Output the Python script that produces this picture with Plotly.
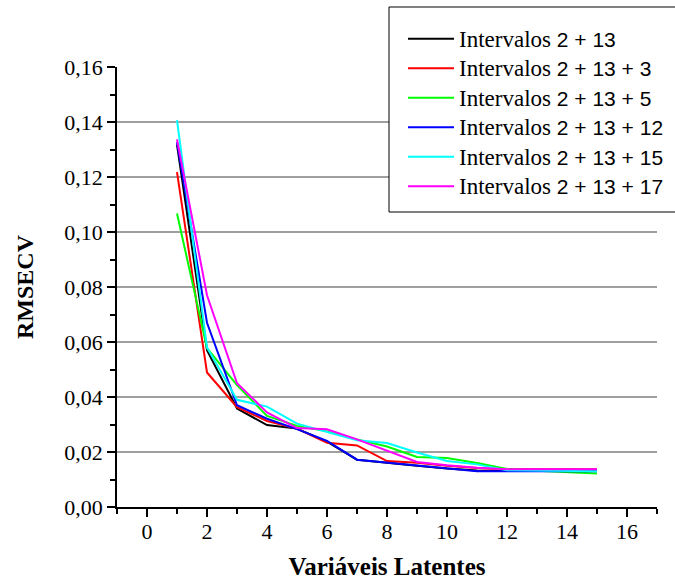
import plotly.graph_objects as go

# Number of latent variables
latent_vars = list(range(1, 16))

# RMSECV for each combination of intervals
rmsecv_2_13 = [0.1318, 0.0570, 0.0358, 0.0298, 0.0285, 0.0238, 0.0172, 0.0160, 0.0150,
               0.0140, 0.0133, 0.0132, 0.0132, 0.0131, 0.0131]
rmsecv_2_13_3 = [0.1218, 0.0489, 0.0363, 0.0313, 0.0285, 0.0234, 0.0224, 0.0167, 0.0161,
                 0.0150, 0.0142, 0.0137, 0.0137, 0.0137, 0.0137]
rmsecv_2_13_5 = [0.1067, 0.0578, 0.0443, 0.0331, 0.0295, 0.0275, 0.0246, 0.0220, 0.0182,
                 0.0178, 0.0160, 0.0138, 0.0132, 0.0127, 0.0122]
rmsecv_2_13_12 = [0.1327, 0.0670, 0.0370, 0.0321, 0.0283, 0.0240, 0.0172, 0.0162, 0.0152,
                  0.0140, 0.0130, 0.0130, 0.0130, 0.0130, 0.0130]
rmsecv_2_13_15 = [0.1407, 0.0580, 0.0390, 0.0365, 0.0303, 0.0272, 0.0243, 0.0233, 0.0198,
                  0.0167, 0.0155, 0.0134, 0.0132, 0.0131, 0.0130]
rmsecv_2_13_17 = [0.1337, 0.0770, 0.0450, 0.0344, 0.0287, 0.0283, 0.0246, 0.0204, 0.0164,
                  0.0152, 0.0143, 0.0137, 0.0137, 0.0137, 0.0137]

interval_sets = ["2 + 13", "2 + 13 + 3", "2 + 13 + 5", "2 + 13 + 12", "2 + 13 + 15", "2 + 13 + 17"]
series_values = [rmsecv_2_13, rmsecv_2_13_3, rmsecv_2_13_5,
                 rmsecv_2_13_12, rmsecv_2_13_15, rmsecv_2_13_17]
series_colors = ["#000000", "#FF0000", "#00FF00", "#0000FF", "#00FFFF", "#FF00FF"]

y_ticks = [0.00, 0.02, 0.04, 0.06, 0.08, 0.10, 0.12, 0.14, 0.16]
y_tick_labels = ["0,00", "0,02", "0,04", "0,06", "0,08", "0,10", "0,12", "0,14", "0,16"]
x_ticks = [0, 2, 4, 6, 8, 10, 12, 14, 16]

SERIF = "Liberation Serif"
SANS = "Liberation Sans"

# plot area geometry (pixels)
L, R, T, B = 117, 18, 67, 77
PW, PH = 675 - L - R, 584 - T - B


def px_x(p):
    return (p - L) / PW


def px_y(p):
    return (584 - B - p) / PH


fig = go.Figure()
for sets, vals, color in zip(interval_sets, series_values, series_colors):
    label = ('<span style="font-size:23px">Intervalos</span>'
             f'<span style="font-family:{SANS};font-size:21px"> {sets}</span>')
    fig.add_trace(go.Scatter(
        x=latent_vars, y=vals, mode="lines", name=label,
        line=dict(color=color, width=2),
    ))

# Horizontal reference lines at each major y tick (except the baseline)
for v in y_ticks[1:-1]:
    fig.add_shape(type="line", xref="paper", yref="y", x0=0, x1=1, y0=v, y1=v,
                  line=dict(color="#7f7f7f", width=1.5), layer="below")

# Legend frame, open on the right edge of the page
fig.add_shape(type="rect", xref="paper", yref="paper",
              x0=px_x(389), x1=px_x(700), y0=px_y(212), y1=px_y(7),
              line=dict(color="black", width=1), fillcolor="white", layer="above")

fig.update_layout(
    width=675, height=584,
    margin=dict(l=L, r=R, t=T, b=B, autoexpand=False),
    paper_bgcolor="white", plot_bgcolor="white",
    font=dict(family=SERIF, color="black", size=22),
    showlegend=True,
    legend=dict(
        x=px_x(403), y=px_y(19), xanchor="left", yanchor="top",
        bgcolor="rgba(0,0,0,0)", borderwidth=0, tracegroupgap=0,
        font=dict(family=SERIF, size=20.4, color="black"),
        itemwidth=46,
    ),
    xaxis=dict(
        range=[-1, 17], tickvals=x_ticks, ticks="outside", ticklen=8, tickwidth=1.5,
        tickcolor="black", showline=True, linecolor="black", linewidth=1.5,
        showgrid=False, zeroline=False, mirror=False, automargin=False,
        ticklabelstandoff=-4,
        minor=dict(dtick=1, tick0=0, ticks="outside", ticklen=5, tickwidth=1.5,
                   tickcolor="black", showgrid=False),
        tickfont=dict(family=SERIF, size=22),
        title=dict(text="<b>Variáveis Latentes</b>", font=dict(family=SERIF, size=25),
                   standoff=14),
    ),
    yaxis=dict(
        range=[0, 0.16], tickvals=y_ticks, ticktext=y_tick_labels, ticks="outside",
        ticklen=8, tickwidth=1.5, tickcolor="black", showline=True, linecolor="black",
        linewidth=1.5, showgrid=False, zeroline=False, mirror=False, automargin=False,
        minor=dict(dtick=0.01, tick0=0, ticks="outside", ticklen=5, tickwidth=1.5,
                   tickcolor="black", showgrid=False),
        tickfont=dict(family=SERIF, size=22),
        title=dict(text="<b>RMSECV</b>", font=dict(family=SERIF, size=24), standoff=24),
    ),
)

fig.write_html("out.html")
